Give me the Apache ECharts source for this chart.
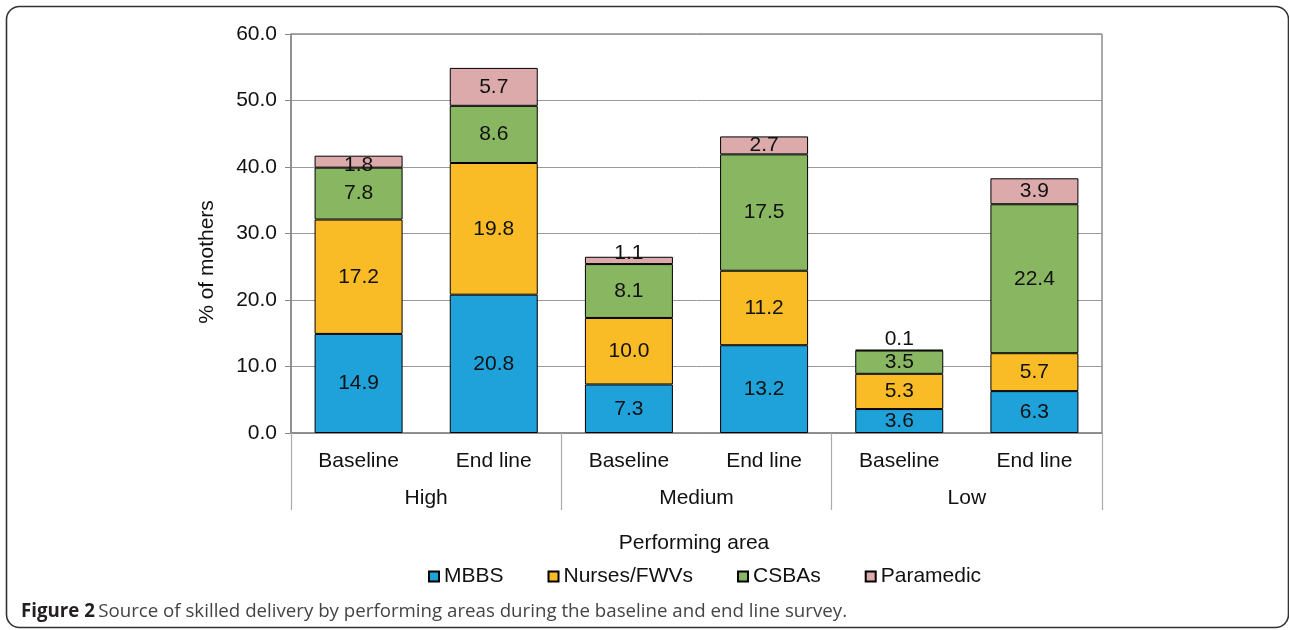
<!DOCTYPE html>
<html>
<head>
<meta charset="utf-8">
<title>Source of skilled delivery by performing areas</title>
<script src="https://cdn.jsdelivr.net/npm/echarts@6/dist/echarts.min.js"></script>
<style>
  html, body { margin: 0; padding: 0; background: #fff; }
  #chart { width: 1289px; height: 630px; }
</style>
</head>
<body>
<div id="chart"></div>
<script>
  /* ---------- 資料---------- */
  const periods = ['Baseline', 'End line', 'Baseline', 'End line', 'Baseline', 'End line'];
  const areas = ['High', 'Medium', 'Low'];
  const mbbs = [14.9, 20.8, 7.3, 13.2, 3.6, 6.3];
  const nurses = [17.2, 19.8, 10.0, 11.2, 5.3, 5.7];
  const csbas = [7.8, 8.6, 8.1, 17.5, 3.5, 22.4];
  const paramedic = [1.8, 5.7, 1.1, 2.7, 0.1, 3.9];
  const yTicks = { min: 0, max: 60, interval: 10 };

  const FONT = '"Liberation Sans", Arial, sans-serif';
  const FS = 21;
  const COLORS = ['#1fa1d9', '#f9bc26', '#89b661', '#dcaaab'];

  /* ---------- 小工具 ---------- */
  function labelFmt(p) { return Number(p.value).toFixed(1); }

  function makeSeries(name, values, color, labelTweak) {
    return {
      name: name,
      type: 'bar',
      stack: 'total',
      barWidth: 88,
      itemStyle: { color: color, borderColor: '#000', borderWidth: 1 },
      label: {
        show: true, position: 'inside', formatter: labelFmt,
        color: '#111', fontFamily: FONT, fontSize: FS
      },
      data: values.map(function (v, i) {
        const tweak = labelTweak ? labelTweak(v, i) : null;
        return tweak ? { value: v, label: tweak } : v;
      })
    };
  }

  // 極小的 Paramedic 區段：0.1 放在柱頂上方，1.1 稍微上移
  function paramedicLabel(v) {
    if (v < 0.5) { return { position: 'top', distance: 0 }; }
    if (v < 1.5 && v > 1.0) { return { offset: [0, -7] }; }
    if (v < 2.0) { return { offset: [0, 4] }; }
    return null;
  }

  const chart = echarts.init(document.getElementById('chart'), null, { renderer: 'canvas' });

  chart.setOption({
    backgroundColor: '#fff',
    animation: false,
    textStyle: { fontFamily: FONT },
    grid: {
      left: 291, right: 187, top: 34, bottom: 197,
      show: true, borderColor: '#555', borderWidth: 1, backgroundColor: 'transparent'
    },
    legend: {
      data: ['MBBS', 'Nurses/FWVs', 'CSBAs', 'Paramedic'],
      left: 423, top: 561,
      icon: 'rect', itemWidth: 10, itemHeight: 10, itemGap: 44,
      textStyle: { fontFamily: FONT, fontSize: FS, color: '#111' }
    },
    xAxis: [
      {
        type: 'category',
        data: periods,
        position: 'bottom',
        axisLine: { show: true, lineStyle: { color: '#888', width: 1.5 } },
        axisTick: { show: false },
        axisLabel: { margin: 18, fontFamily: FONT, fontSize: FS, color: '#111', interval: 0 }
      },
      {
        type: 'category',
        data: areas,
        position: 'bottom',
        axisLine: { show: false },
        axisTick: { show: true, length: 77, lineStyle: { color: '#aaa', width: 1.2 } },
        axisLabel: { margin: 55, fontFamily: FONT, fontSize: FS, color: '#111', interval: 0 }
      }
    ],
    yAxis: {
      type: 'value',
      min: yTicks.min, max: yTicks.max, interval: yTicks.interval,
      axisLine: { show: true, lineStyle: { color: '#888', width: 1.5 } },
      axisTick: { show: true, length: 6, lineStyle: { color: '#888' } },
      axisLabel: {
        margin: 14, fontFamily: FONT, fontSize: FS, color: '#111',
        formatter: function (v) { return v.toFixed(1); }
      },
      splitLine: { show: true, lineStyle: { color: '#9a9a9a', width: 1 } }
    },
    series: [
      makeSeries('MBBS', mbbs, COLORS[0]),
      makeSeries('Nurses/FWVs', nurses, COLORS[1]),
      makeSeries('CSBAs', csbas, COLORS[2]),
      makeSeries('Paramedic', paramedic, COLORS[3], paramedicLabel)
    ],
    graphic: [
      {
        type: 'rect', silent: true, z: -1,
        shape: { x: 6.5, y: 6.5, width: 1282, height: 621, r: 13 },
        style: { fill: 'none', stroke: '#333', lineWidth: 1.6 }
      },
      {
        // y 軸標題（原圖位置比軸中點偏下）
        type: 'text', silent: true,
        x: 207, y: 262, rotation: Math.PI / 2,
        style: {
          text: '% of mothers', fill: '#111', font: FS + 'px ' + FONT,
          align: 'center', verticalAlign: 'middle'
        }
      },
      {
        type: 'text', silent: true,
        x: 694, y: 543,
        style: {
          text: 'Performing area', fill: '#111', font: FS + 'px ' + FONT,
          align: 'center', verticalAlign: 'middle'
        }
      },
      {
        type: 'text', silent: true,
        x: 21, y: 612,
        style: {
          text: '{b|Figure 2} {n|Source of skilled delivery by performing areas during the baseline and end line survey.}',
          verticalAlign: 'middle',
          rich: {
            b: { fontFamily: '"Open Sans", sans-serif', fontWeight: 'bold', fontSize: 18.7, fill: '#231f20' },
            n: { fontFamily: '"Open Sans", sans-serif', fontSize: 18.7, fill: '#444' }
          }
        }
      }
    ]
  });
</script>
</body>
</html>
